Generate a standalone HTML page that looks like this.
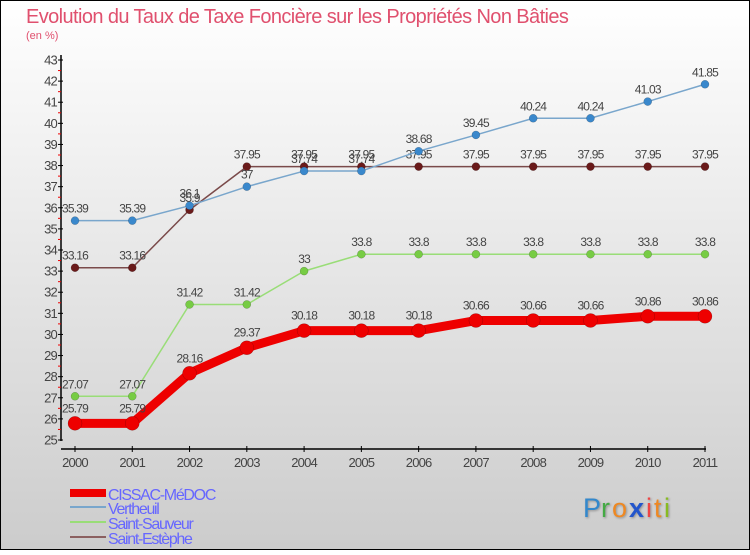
<!DOCTYPE html>
<html><head><meta charset="utf-8"><style>
body{margin:0;width:750px;height:550px;overflow:hidden;font-family:"Liberation Sans",sans-serif}
svg text{font-family:"Liberation Sans",sans-serif}
</style></head><body>
<svg id="c" width="750" height="550" xmlns="http://www.w3.org/2000/svg">
<defs><linearGradient id="bg" x1="0" y1="0" x2="0" y2="1"><stop offset="0" stop-color="#ffffff"/><stop offset="1" stop-color="#cccccc"/></linearGradient></defs>
<rect x="0.5" y="0.5" width="749" height="549" fill="url(#bg)" stroke="#000"/>
<text x="26" y="23" font-size="20" fill="#e0506e" letter-spacing="-0.6">Evolution du Taux de Taxe Foncière sur les Propriétés Non Bâties</text>
<text x="26" y="39" font-size="11" fill="#e0506e">(en %)</text>
<g id="axes"></g><g id="series"></g>
<g>
<rect x="70" y="489" width="36" height="8" fill="#ee0000"/>
<text x="108" y="500" font-size="16" fill="#6666ff" letter-spacing="-1.3">CISSAC-MéDOC</text>
<rect x="70" y="506" width="36" height="2" fill="#79a6cc"/>
<text x="108" y="514" font-size="16" fill="#6666ff" letter-spacing="-1.3">Vertheuil</text>
<rect x="70" y="521" width="36" height="2" fill="#99dd77"/>
<text x="108" y="529" font-size="16" fill="#6666ff" letter-spacing="-1.3">Saint-Sauveur</text>
<rect x="70" y="536" width="36" height="2" fill="#8b6060"/>
<text x="108" y="544" font-size="16" fill="#6666ff" letter-spacing="-1.3">Saint-Estèphe</text>
</g>
<g font-size="27" style="filter:drop-shadow(1px 1px 1px rgba(0,0,0,0.3))">
<text x="583" y="517" fill="#3388cc">P</text><text x="601" y="517" fill="#44aa44">r</text><text x="612" y="517" fill="#ee8822">o</text><text x="629" y="517" fill="#2255cc" font-weight="bold">x</text><text x="646" y="517" fill="#ee4444">i</text><text x="654" y="517" fill="#ee8822">t</text><text x="664" y="517" fill="#88bb22">i</text>
</g>
</svg>
<script>
const years=[2000,2001,2002,2003,2004,2005,2006,2007,2008,2009,2010,2011];
const cissac=[25.79,25.79,28.16,29.37,30.18,30.18,30.18,30.66,30.66,30.66,30.86,30.86];
const vertheuil=[35.39,35.39,36.1,37,37.74,37.74,38.68,39.45,40.24,40.24,41.03,41.85];
const sauveur=[27.07,27.07,31.42,31.42,33,33.8,33.8,33.8,33.8,33.8,33.8,33.8];
const estephe=[33.16,33.16,35.9,37.95,37.95,37.95,37.95,37.95,37.95,37.95,37.95,37.95];
const yTicks=[25,26,27,28,29,30,31,32,33,34,35,36,37,38,39,40,41,42,43];
const NS='http://www.w3.org/2000/svg';
const X=i=>75+i*(630/11);
const Y=v=>440-(v-25)*(380/18);
function mk(tag,a,p){const e=document.createElementNS(NS,tag);for(const k in a)e.setAttribute(k,a[k]);p.appendChild(e);return e;}
const ax=document.getElementById('axes');
let l=mk('line',{x1:61,y1:55,x2:61,y2:441,stroke:'#000','stroke-width':1.5},ax);


l=mk('line',{x1:61,y1:449,x2:706,y2:449,stroke:'#000','stroke-width':1.5},ax);


yTicks.forEach((v,i)=>{
  mk('line',{x1:58,x2:63,y1:Y(v),y2:Y(v),stroke:'#000'},ax);
  if(i<yTicks.length-1)mk('line',{x1:58,x2:61,y1:Y(v+0.5),y2:Y(v+0.5),stroke:'#e00'},ax);
  const t=mk('text',{x:57,y:Y(v)+4.5,'font-size':13,fill:'#444','text-anchor':'end','letter-spacing':'-0.8'},ax);
  t.textContent=v;
  
  
});
years.forEach((y,i)=>{
  mk('line',{x1:X(i),x2:X(i),y1:446,y2:452,stroke:'#000'},ax);
  const t=mk('text',{x:X(i),y:467,'font-size':13,fill:'#444','text-anchor':'middle','letter-spacing':'-0.8'},ax);
  t.textContent=y;
  
  
});
const sg=document.getElementById('series');
function series(vals,name,color,dot,w,r){
  const g=mk('g',{},sg);
  
  
  const pl=mk('polyline',{points:vals.map((v,i)=>X(i)+','+Y(v)).join(' '),fill:'none',stroke:color,'stroke-width':w,'stroke-linejoin':'round'},g);
  
  
  vals.forEach((v,i)=>{
    const c=mk('circle',{cx:X(i),cy:Y(v),r:r,fill:dot,stroke:'rgba(0,0,0,0.3)','stroke-width':0.5},g);
    
    
    const t=mk('text',{x:X(i),y:Y(v)-(r+4),'font-size':12,fill:'#444','text-anchor':'middle','letter-spacing':'-0.8'},g);
    t.textContent=v;
    
    
  });
}
series(estephe,'saint-estephe','#7a4a4a','#6a1a1a',1.5,4);
series(vertheuil,'vertheuil','#79a6cc','#3a88cc',1.5,4);
series(sauveur,'saint-sauveur','#99dd77','#77cc44',1.5,4);
series(cissac,'cissac','#ee0000','#ee0000',9,7);
</script>
</body></html>
